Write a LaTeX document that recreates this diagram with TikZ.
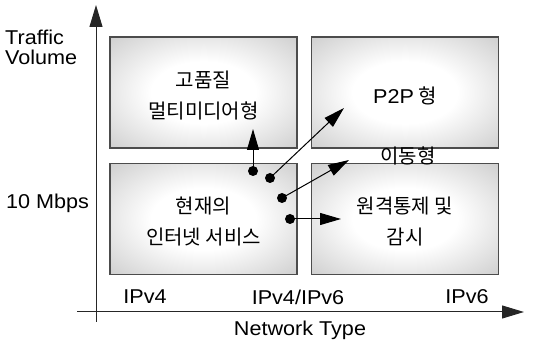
\documentclass[tikz,border=0pt]{standalone}
\usepackage{fontspec}
\setmainfont{Liberation Sans}[FakeStretch=1.08]
\newfontfamily\krfont{Noto Sans CJK KR}
\usetikzlibrary{arrows.meta}
% soft white glow fading to light grey towards the cell border
\pgfdeclareradialshading{glow}{\pgfpoint{0bp}{0bp}}{%
  color(0bp)=(white); color(14bp)=(white); color(38bp)=(black!21); color(50bp)=(black!23)}
\begin{document}
\begin{tikzpicture}[x=1pt,y=-1pt,
  axisline/.style={line width=1pt, black!85, -{Triangle[length=22pt,width=13pt]}},
  cell/.style={draw=black!70, line width=1.1pt, minimum width=187pt, minimum height=111pt,
    shading=glow},
  celltext/.style={align=center, inner sep=0pt, yshift=-3pt,
    font=\krfont\fontsize{20}{31}\selectfont},
  dot/.style={circle, fill=black, inner sep=0pt, minimum size=10pt},
  flow/.style={line width=1pt, -{Triangle[length=21pt,width=12pt]}},
  lbl/.style={font=\fontsize{20}{20}\selectfont, inner sep=0pt},
  krlbl/.style={font=\krfont\fontsize{20}{20}\selectfont, inner sep=0pt}]
\useasboundingbox (0,0) rectangle (536,344);

% quadrants
\node[cell] (hq)  at (203.5,92.5) {};
\node[cell] (p2p) at (405,92.5)   {};
\node[cell] (now) at (203.5,219)  {};
\node[cell] (rc)  at (405,219)    {};
\node[celltext] (hqt)  at (hq.center)  {고품질\\멀티미디어형};
\node[celltext] (p2pt) at (p2p.center) {{\fontspec{Liberation Sans}[FakeStretch=1.08]P2P} 형};
\node[celltext] (nowt) at (now.center) {현재의\\인터넷 서비스};
\node[celltext] (rct)  at (rc.center)  {원격통제 및\\감시};

% axes
\coordinate (yb) at (96,322);
\coordinate (yt) at (96,5);
\coordinate (xl) at (77,312);
\coordinate (xr) at (524,312);
\draw[axisline] (yb) -- (yt);
\draw[axisline] (xl) -- (xr);

% axis labels
\node[lbl, align=left, anchor=west] (tv) at (5,47) {Traffic\\Volume};
\node[lbl, anchor=west] (mb) at (6,203) {10 Mbps};
\node[lbl] (v4) at (145,297) {IPv4};
\node[lbl] (v46) at (298,297) {IPv4/IPv6};
\node[lbl] (v6) at (467,297) {IPv6};
\node[lbl] (nt) at (300,330) {Network Type};
\node[krlbl] (mob) at (408,156) {이동형};

% migration paths
\node[dot] (d1) at (253,171) {};
\node[dot] (d2) at (270,178) {};
\node[dot] (d3) at (282,198) {};
\node[dot] (d4) at (290,219) {};
\coordinate (t1) at (253,129);
\coordinate (t2) at (344,108);
\coordinate (t3) at (349,160);
\coordinate (t4) at (341,219);
\draw[flow] (d1.center) -- (t1);
\draw[flow] (d2.center) -- (t2);
\draw[flow] (d3.center) -- (t3);
\draw[flow] (d4.center) -- (t4);
\end{tikzpicture}
\end{document}
